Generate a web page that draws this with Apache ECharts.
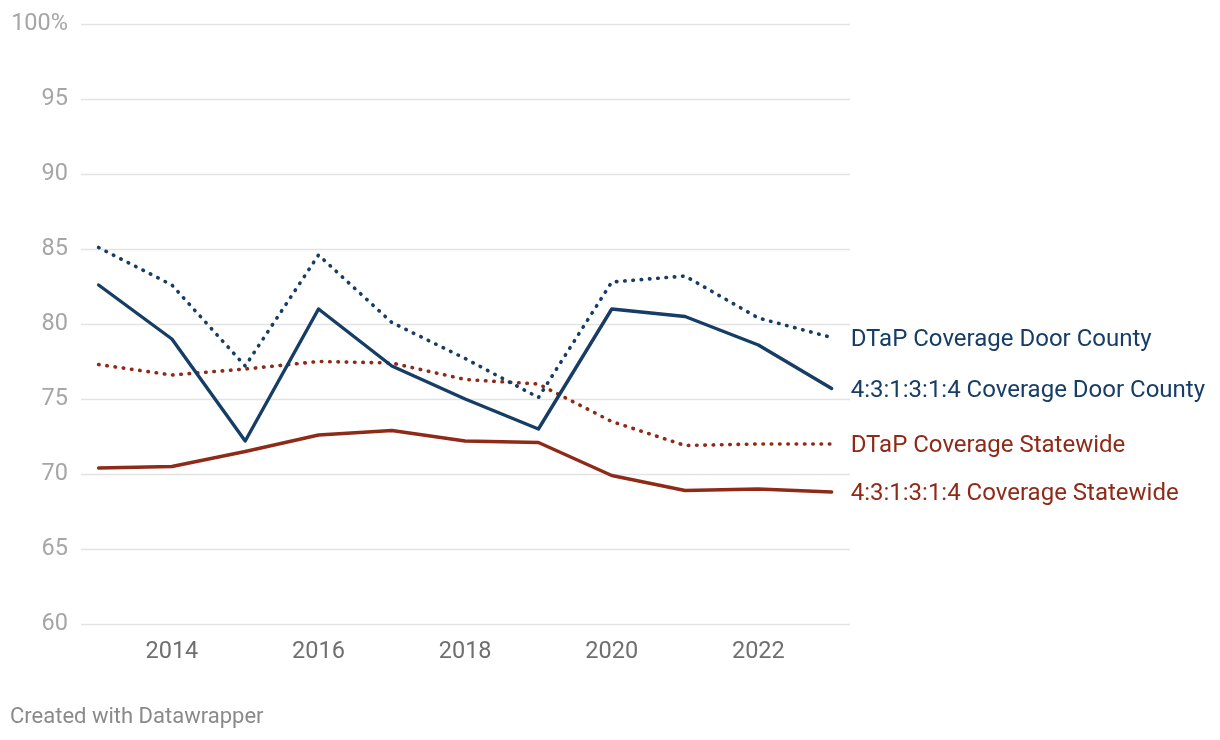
<!DOCTYPE html>
<html>
<head>
<meta charset="utf-8">
<script src="https://cdn.jsdelivr.net/npm/echarts@6/dist/echarts.min.js"></script>
<style>
html,body{margin:0;padding:0;background:#fff;}
#chart{width:1220px;height:740px;}
</style>
</head>
<body>
<div id="chart"></div>
<script>
const years = [2013, 2014, 2015, 2016, 2017, 2018, 2019, 2020, 2021, 2022, 2023];
const dtapDoor = [85.1, 82.6, 77.2, 84.6, 80.1, 77.7, 75.1, 82.8, 83.2, 80.4, 79.1];
const combo4Door = [82.6, 79.0, 72.2, 81.0, 77.2, 75.0, 73.0, 81.0, 80.5, 78.6, 75.7];
const dtapState = [77.3, 76.6, 77.0, 77.5, 77.4, 76.3, 76.0, 73.5, 71.9, 72.0, 72.0];
const combo4State = [70.4, 70.5, 71.5, 72.6, 72.9, 72.2, 72.1, 69.9, 68.9, 69.0, 68.8];
const xTickLabels = [2014, 2016, 2018, 2020, 2022];
const seriesNames = ['DTaP Coverage Door County', '4:3:1:3:1:4 Coverage Door County', 'DTaP Coverage Statewide', '4:3:1:3:1:4 Coverage Statewide'];

const BLUE = '#163d66';
const RED = '#8f2a18';
const FONT = 'Roboto';

function pairs(vals){ return years.map((y,i)=>[y, vals[i]]); }

function mk(name, vals, color, dotted){
  return {
    name: name,
    type: 'line',
    data: pairs(vals),
    symbol: 'none',
    smooth: false,
    lineStyle: dotted
      ? {color: color, width: 3.6, type: [0.5, 7.8], cap: 'round'}
      : {color: color, width: 3.4, cap: 'round', join: 'round'},
    itemStyle: {color: color},
    emphasis: {disabled: true},
    endLabel: {
      show: true,
      formatter: '{a}',
      color: color,
      fontSize: 24,
      fontFamily: FONT,
      distance: 19,
      offset: [0, 2]
    }
  };
}

const chart = echarts.init(document.getElementById('chart'), null, {renderer: 'canvas'});
chart.setOption({
  animation: false,
  backgroundColor: '#ffffff',
  textStyle: {fontFamily: FONT},
  grid: {left: 81, right: 370, top: 24, bottom: 116, containLabel: false},
  xAxis: {
    type: 'value',
    min: 2012.76,
    max: 2023.25,
    axisLine: {show: false},
    axisTick: {show: false},
    splitLine: {show: false},
    axisLabel: {
      customValues: xTickLabels,
      color: '#6f6f6f',
      fontSize: 23.5,
      fontFamily: FONT,
      margin: 16,
      formatter: v => String(v)
    }
  },
  yAxis: {
    type: 'value',
    min: 60,
    max: 100,
    interval: 5,
    axisLine: {show: false},
    axisTick: {show: false},
    splitLine: {lineStyle: {color: '#e3e3e3', width: 1.3}},
    axisLabel: {
      color: '#a6a6a6',
      fontSize: 23.5,
      fontFamily: FONT,
      margin: 13,
      formatter: v => v === 100 ? '100%' : String(v)
    }
  },
  series: [
    mk(seriesNames[2], dtapState, RED, true),
    mk(seriesNames[3], combo4State, RED, false),
    mk(seriesNames[0], dtapDoor, BLUE, true),
    mk(seriesNames[1], combo4Door, BLUE, false)
  ],
  graphic: [{
    type: 'text',
    left: 10,
    top: 706,
    style: {text: 'Created with Datawrapper', fill: '#8a8a8a', fontSize: 22, fontFamily: FONT}
  }]
});
</script>
</body>
</html>
